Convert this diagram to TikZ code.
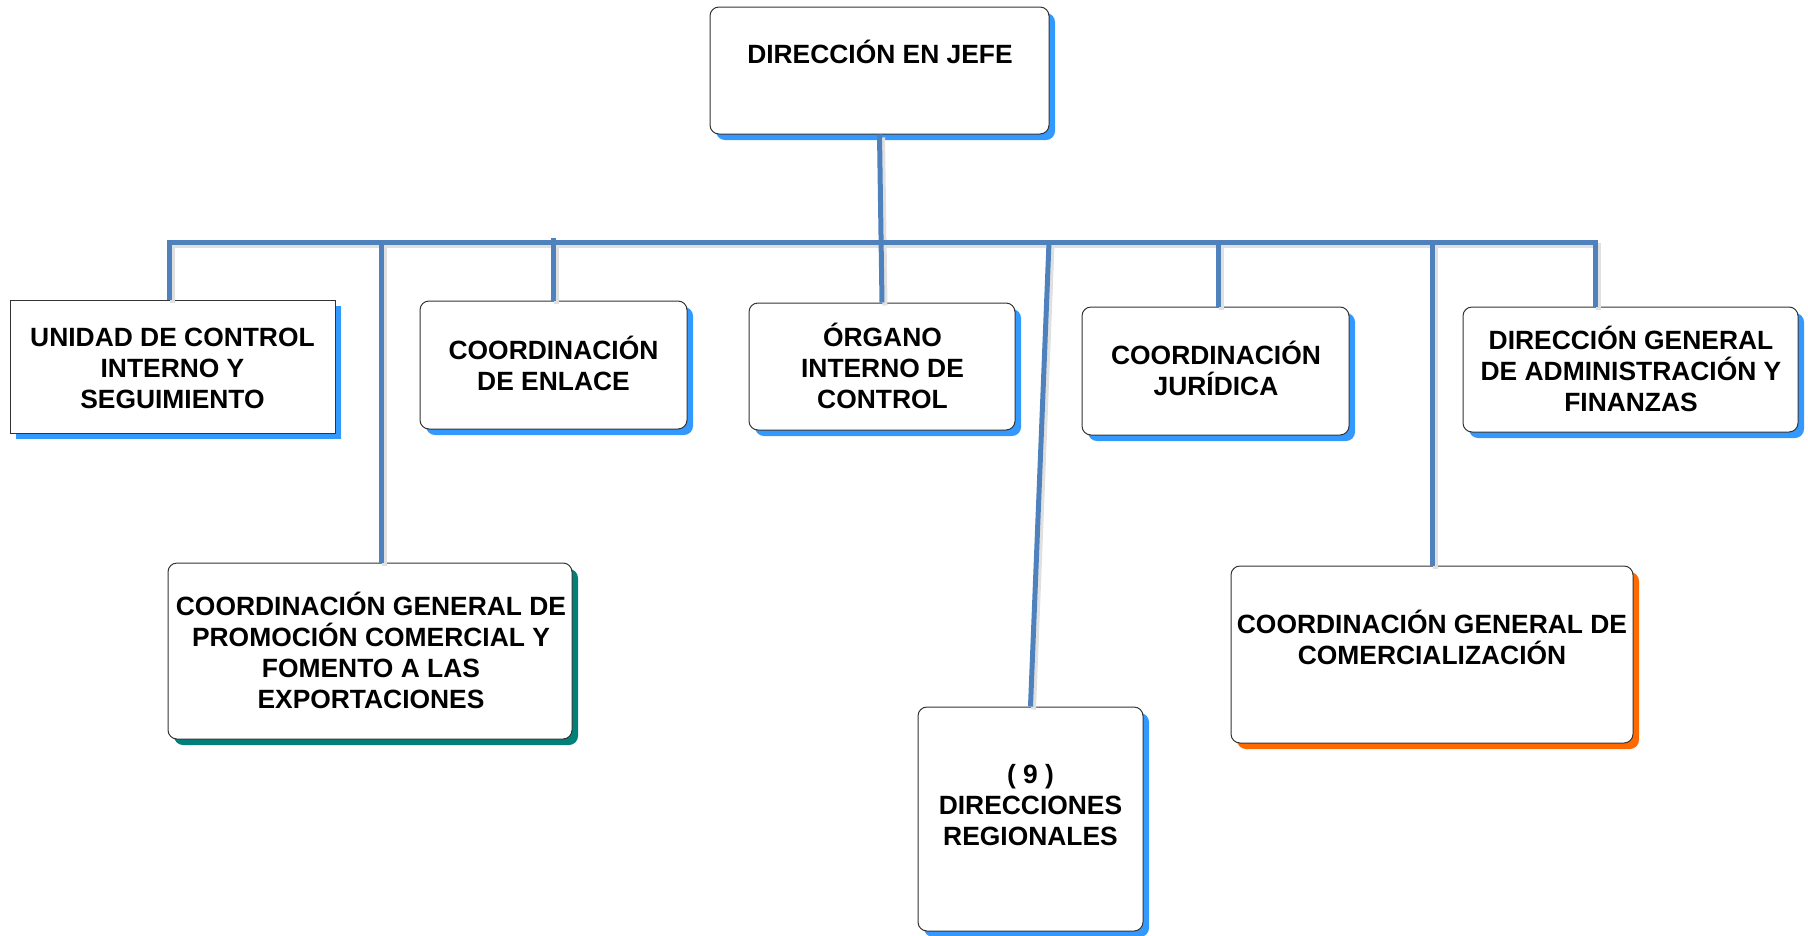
\documentclass[tikz,border=0pt]{standalone}
\usepackage{fontspec}
\setmainfont{Liberation Sans}
\usetikzlibrary{shadows}
\definecolor{connblue}{HTML}{4F81BD}
\definecolor{shblue}{HTML}{3399FF}
\definecolor{shteal}{HTML}{008078}
\definecolor{shorange}{HTML}{FF6A00}
\tikzset{
  boxbase/.style={draw=black!80, line width=1pt, fill=white, inner sep=0pt},
  rbox/.style={boxbase, rounded corners=9pt},
  sbox/.style={boxbase},
  shb/.style={drop shadow={shadow xshift=6pt, shadow yshift=-6pt, fill=shblue, opacity=1}},
  sht/.style={drop shadow={shadow xshift=6pt, shadow yshift=-6pt, fill=shteal, opacity=1}},
  sho/.style={drop shadow={shadow xshift=6pt, shadow yshift=-6pt, fill=shorange, opacity=1}},
  txt/.style={align=center, inner sep=0pt, font=\fontsize{26.4}{31}\selectfont\bfseries},
  conn/.style={draw=connblue, line width=5pt},
  connsh/.style={draw=black!12, line width=5pt},
}
\begin{document}
\begin{tikzpicture}[x=1pt,y=-1pt]
\useasboundingbox (0,0) rectangle (1808,935);

% boxes
\node[rbox, shb, minimum width=339pt, minimum height=127pt] (top) at (879.5,70.5) {};
\node[sbox, shb, minimum width=325pt, minimum height=133pt] (uni) at (172.5,366.5) {};
\node[rbox, shb, minimum width=267pt, minimum height=128pt] (enl) at (553.5,365) {};
\node[rbox, shb, minimum width=266pt, minimum height=127pt] (org) at (882,366.5) {};
\node[rbox, shb, minimum width=267pt, minimum height=128pt] (jur) at (1215.5,371) {};
\node[rbox, shb, minimum width=335pt, minimum height=125pt] (dga) at (1630.5,369.5) {};
\node[rbox, sht, minimum width=404pt, minimum height=176pt] (pro) at (370,651) {};
\node[rbox, shb, minimum width=225pt, minimum height=224pt] (reg) at (1030.5,819) {};
\node[rbox, sho, minimum width=402pt, minimum height=177pt] (com) at (1432,654.5) {};

% bus coordinates
\coordinate (bL) at (169,242);
\coordinate (bR) at (1595,242);
\coordinate (bPro) at (381,242);
\coordinate (bEnl) at (553,238);
\coordinate (bReg) at (1049,242);
\coordinate (bJur) at (1218,242);
\coordinate (bCom) at (1432,242);

% connector shadows
\begin{scope}[transform canvas={shift={(3pt,-3pt)}}]
\draw[connsh] (bL |- uni.north) -- (bL) -- (bR) -- (bR |- dga.north);
\draw[connsh] (bPro) -- (bPro |- pro.north);
\draw[connsh] (bEnl) -- (bEnl |- enl.north);
\draw[connsh] (bJur) -- (bJur |- jur.north);
\draw[connsh] (bCom) -- (bCom |- com.north);
\draw[connsh] (bReg) -- (reg.north);
\draw[connsh] (top.south) -- (org.north);
\end{scope}

% connectors
\draw[conn] (bL |- uni.north) -- (bL) -- (bR) -- (bR |- dga.north);
\draw[conn] (bPro) -- (bPro |- pro.north);
\draw[conn] (bEnl) -- (bEnl |- enl.north);
\draw[conn] (bJur) -- (bJur |- jur.north);
\draw[conn] (bCom) -- (bCom |- com.north);
\draw[conn] (bReg) -- (reg.north);
\draw[conn] (top.south) -- (org.north);

% texts
\node[txt] (ttop) at (880,52) {DIRECCIÓN EN JEFE};
\node[txt] (tuni) at (172.5,368.5) {UNIDAD DE CONTROL\\INTERNO Y\\SEGUIMIENTO};
\node[txt] (tenl) at (553.5,363) {COORDINACIÓN\\DE ENLACE};
\node[txt] (torg) at (882.5,366) {ÓRGANO\\INTERNO DE\\CONTROL};
\node[txt] (tjur) at (1216,368) {COORDINACIÓN\\JURÍDICA};
\node[txt] (tdga) at (1631,369) {DIRECCIÓN GENERAL\\DE ADMINISTRACIÓN Y\\FINANZAS};
\node[txt] (tpro) at (371,650) {COORDINACIÓN GENERAL DE\\PROMOCIÓN COMERCIAL Y\\FOMENTO A LAS\\EXPORTACIONES};
\node[txt] (treg) at (1030.5,805) {( 9 )\\DIRECCIONES\\REGIONALES};
\node[txt] (tcom) at (1432,637) {COORDINACIÓN GENERAL DE\\COMERCIALIZACIÓN};
\end{tikzpicture}
\end{document}
